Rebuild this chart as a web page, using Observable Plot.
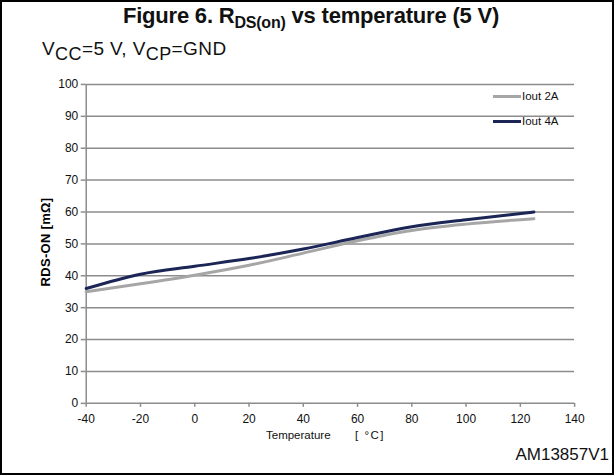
<!DOCTYPE html>
<html><head><meta charset="utf-8">
<script src="https://cdn.jsdelivr.net/npm/d3@7"></script>
<script src="https://cdn.jsdelivr.net/npm/@observablehq/plot@0.6"></script>
<style>
body{margin:0;background:#fff;font-family:"Liberation Sans",Arial,sans-serif;}
#frame{position:relative;width:610px;height:471px;border:2px solid #000;overflow:hidden;}
#title{position:absolute;left:4px;width:610px;top:1px;text-align:center;font-weight:bold;font-size:22px;color:#111;letter-spacing:-0.2px;}
#title sub{font-size:16px;}
#sub{position:absolute;left:40px;top:36px;font-size:19px;color:#111;letter-spacing:0.4px;}
#sub sub{font-size:18px;}
#plot{position:absolute;left:-2px;top:58px;}
.lab{position:absolute;font-size:11.5px;color:#111;}
#ylab{position:absolute;left:43px;top:240px;font-size:13px;font-weight:bold;transform:translate(-50%,-50%) rotate(-90deg);white-space:nowrap;letter-spacing:0.3px;}
#caption{position:absolute;right:3px;top:443px;font-size:17px;color:#111;}
.leg{position:absolute;font-size:11.5px;color:#111;display:flex;align-items:center;}
.leg span.sw{display:inline-block;width:28px;height:3px;margin-right:1px;}
</style></head><body>
<div id="frame">
<div id="title">Figure 6. R<sub>DS(on)</sub> vs temperature (5 V)</div>
<div id="sub">V<sub>CC</sub>=5 V, V<sub>CP</sub>=GND</div>
<div id="plot"></div>
<div id="ylab">RDS-ON [mΩ]</div>
<div class="lab" style="left:264px;top:427px;">Temperature</div>
<div class="lab" style="left:353px;top:427px;letter-spacing:1.5px;">[ °C]</div>
<div id="caption">AM13857V1</div>
<div class="leg" style="left:491px;top:88px;"><span class="sw" style="background:#a6a6a6"></span>Iout 2A</div>
<div class="leg" style="left:491px;top:113px;"><span class="sw" style="background:#1b2556"></span>Iout 4A</div>
</div>
<script>
const temps = [-40, -20, 0, 20, 40, 60, 80, 100, 125];
const iout2A = [35, 37.5, 40.2, 43.3, 47.1, 51, 54.2, 56.2, 57.9];
const iout4A = [36, 40.5, 43, 45.4, 48.4, 52, 55.4, 57.6, 60];
const seriesNames = ["Iout 2A", "Iout 4A"];
const seriesColors = ["#a6a6a6", "#1b2556"];
const xTicks = [-40, -20, 0, 20, 40, 60, 80, 100, 120, 140];
const yTicks = [0, 10, 20, 30, 40, 50, 60, 70, 80, 90, 100];

const data = [];
temps.forEach((t, i) => {
  data.push({t, v: iout2A[i], s: seriesNames[0]});
});
temps.forEach((t, i) => {
  data.push({t, v: iout4A[i], s: seriesNames[1]});
});

const grid = "#8c8c8c";
const fmt = d => String(d);
const chart = Plot.plot({
  width: 614,
  height: 415,
  marginLeft: 86,
  marginRight: 38,
  marginTop: 24,
  marginBottom: 71,
  style: {fontFamily: "'Liberation Sans', Arial, sans-serif", fontSize: "12px", color: "#111", background: "transparent"},
  x: {domain: [-40, 140], ticks: xTicks},
  y: {domain: [0, 100], ticks: yTicks},
  color: {domain: seriesNames, range: seriesColors},
  marks: [
    Plot.gridY(yTicks.filter(d => d > 0), {stroke: grid, strokeOpacity: 1, strokeWidth: 1.5}),
    Plot.ruleY([0], {stroke: grid, strokeWidth: 1.5}),
    Plot.ruleX([-40], {stroke: grid, strokeWidth: 1.5}),
    Plot.axisX(xTicks, {tickSize: 4, stroke: grid, tickPadding: 7, label: null, strokeWidth: 1.5, tickFormat: fmt, fill: "#111"}),
    Plot.axisY(yTicks, {tickSize: 5, stroke: grid, tickPadding: 3, label: null, strokeWidth: 1.5, tickFormat: fmt, fill: "#111"}),
    Plot.line(data, {x: "t", y: "v", z: "s", stroke: "s", strokeWidth: 3, curve: "monotone-x"})
  ]
});
document.getElementById("plot").appendChild(chart);
</script>
</body></html>
